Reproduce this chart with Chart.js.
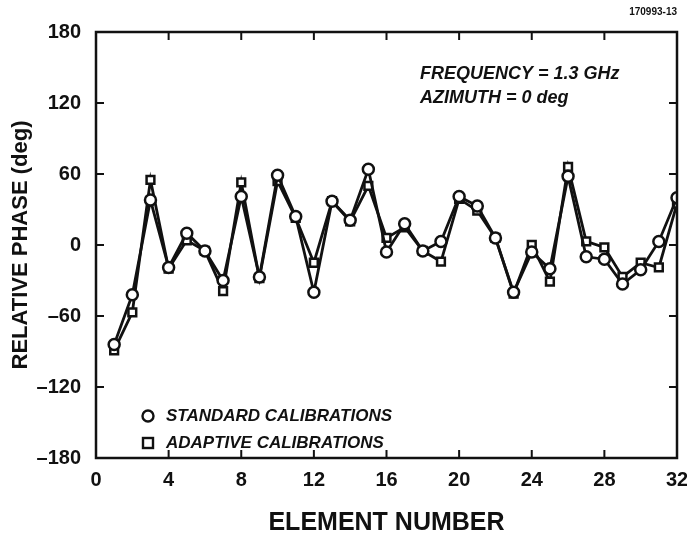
<!DOCTYPE html>
<html>
<head>
<meta charset="utf-8">
<script src="https://cdn.jsdelivr.net/npm/chart.js@4/dist/chart.umd.min.js"></script>
<style>
  body { margin: 0; background: #fff; }
  #wrap { width: 687px; height: 558px; position: relative; }
</style>
</head>
<body>
<div id="wrap"><canvas id="phaseChart"></canvas></div>
<script>
// element numbers and measured relative phase (deg)
const elements = [1, 2, 3, 4, 5, 6, 7, 8, 9, 10, 11, 12, 13, 14, 15, 16,
                  17, 18, 19, 20, 21, 22, 23, 24, 25, 26, 27, 28, 29, 30, 31, 32];
const standardCal = [-84, -42, 38, -19, 10, -5, -30, 41, -27, 59, 24, -40, 37, 21, 64, -6,
                     18, -5, 3, 41, 33, 6, -40, -6, -20, 58, -10, -12, -33, -21, 3, 40];
const adaptiveCal = [-89, -57, 55, -20, 4, -5, -39, 53, -28, 54, 23, -15, 37, 20, 50, 6,
                     15, -5, -14, 39, 29, 6, -41, 0, -31, 66, 3, -2, -27, -15, -19, 35];
const xTicks = [0, 4, 8, 12, 16, 20, 24, 28, 32];
const yTicks = [-180, -120, -60, 0, 60, 120, 180];

const BLACK = '#111';
const FONT = '"Liberation Sans", Arial, sans-serif';

const pts = arr => arr.map((v, i) => ({ x: elements[i], y: v }));

// frame, inward ticks, legend and notes
const framePlugin = {
    id: 'frame',
    afterDraw(chart) {
        const ctx = chart.ctx, a = chart.chartArea;
        const xs = chart.scales.x, ys = chart.scales.y;
        ctx.save();
        ctx.strokeStyle = BLACK;
        ctx.lineWidth = 2.5;
        ctx.strokeRect(a.left, a.top, a.right - a.left, a.bottom - a.top);
        ctx.lineWidth = 2;
        const t = 8;
        xTicks.slice(1, -1).forEach(v => {
            const px = xs.getPixelForValue(v);
            ctx.beginPath();
            ctx.moveTo(px, a.bottom); ctx.lineTo(px, a.bottom - t);
            ctx.moveTo(px, a.top); ctx.lineTo(px, a.top + t);
            ctx.stroke();
        });
        yTicks.slice(1, -1).forEach(v => {
            const py = ys.getPixelForValue(v);
            ctx.beginPath();
            ctx.moveTo(a.left, py); ctx.lineTo(a.left + t, py);
            ctx.moveTo(a.right, py); ctx.lineTo(a.right - t, py);
            ctx.stroke();
        });

        // legend inside plot, lower left
        ctx.fillStyle = BLACK;
        ctx.font = 'italic bold 17px ' + FONT;
        ctx.textBaseline = 'middle';
        ctx.textAlign = 'left';
        const lx = a.left + 52, ly1 = a.bottom - 42, ly2 = a.bottom - 15;
        ctx.lineWidth = 2.4;
        ctx.beginPath(); ctx.arc(lx, ly1, 5.5, 0, Math.PI * 2); ctx.stroke();
        ctx.strokeRect(lx - 5, ly2 - 5, 10, 10);
        ctx.fillText('STANDARD CALIBRATIONS', lx + 18, ly1);
        ctx.fillText('ADAPTIVE CALIBRATIONS', lx + 18, ly2);

        // notes
        ctx.font = 'italic bold 18px ' + FONT;
        ctx.fillText('FREQUENCY = 1.3 GHz', a.left + 324, a.top + 42);
        ctx.fillText('AZIMUTH = 0 deg', a.left + 324, a.top + 66);
        ctx.font = 'bold 10px ' + FONT;
        ctx.textAlign = 'right';
        ctx.fillText('170993-13', a.right, 12);
        ctx.restore();
    }
};

new Chart(document.getElementById('phaseChart'), {
    type: 'line',
    data: {
        datasets: [
            {
                label: 'STANDARD CALIBRATIONS',
                data: pts(standardCal),
                borderColor: BLACK, borderWidth: 2.8,
                pointStyle: 'circle', pointRadius: 5.5,
                pointBorderWidth: 2.5, pointBackgroundColor: '#fff', pointBorderColor: BLACK
            },
            {
                label: 'ADAPTIVE CALIBRATIONS',
                data: pts(adaptiveCal),
                borderColor: BLACK, borderWidth: 2.8,
                pointStyle: 'rect', pointRadius: 5.5,
                pointBorderWidth: 2.5, pointBackgroundColor: '#fff', pointBorderColor: BLACK
            }
        ]
    },
    options: {
        responsive: true,
        maintainAspectRatio: false,
        animation: false,
        layout: { padding: { top: 32, right: 10, left: 0, bottom: 0 } },
        plugins: { legend: { display: false }, tooltip: { enabled: false } },
        scales: {
            x: {
                type: 'linear', min: 0, max: 32,
                afterBuildTicks: s => { s.ticks = xTicks.map(v => ({ value: v })); },
                afterFit: s => { s.height = 100; s.paddingLeft = 0; s.paddingRight = 0; },
                grid: { display: false, drawTicks: false },
                border: { display: false },
                ticks: {
                    color: BLACK, padding: 10,
                    font: { family: FONT, size: 20, weight: 'bold' }
                },
                title: {
                    display: true, text: 'ELEMENT NUMBER', color: BLACK, padding: { top: 0, bottom: 20 },
                    font: { family: FONT, size: 25, weight: 'bold' }
                }
            },
            y: {
                min: -180, max: 180,
                afterBuildTicks: s => { s.ticks = yTicks.map(v => ({ value: v })); },
                afterFit: s => { s.width = 96; s.paddingTop = 0; s.paddingBottom = 0; },
                grid: { display: false, drawTicks: false },
                border: { display: false },
                ticks: {
                    color: BLACK, padding: 15,
                    callback: v => String(v).replace('-', '\u2013'),
                    font: { family: FONT, size: 20, weight: 'bold' }
                },
                title: {
                    display: true, text: 'RELATIVE PHASE (deg)', color: BLACK, padding: { top: 8, bottom: 0 },
                    font: { family: FONT, size: 22, weight: 'bold' }
                }
            }
        }
    },
    plugins: [framePlugin]
});
</script>
</body>
</html>
